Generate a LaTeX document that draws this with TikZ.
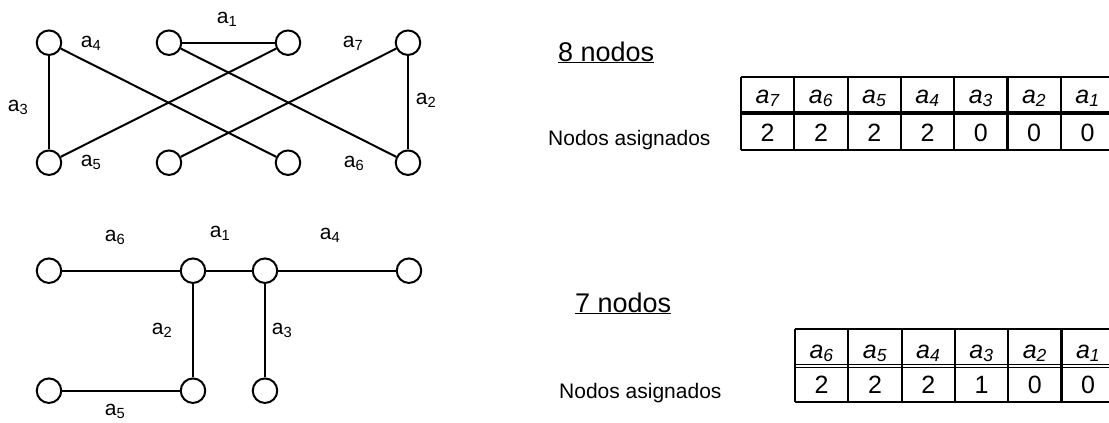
\documentclass[tikz,border=0pt]{standalone}
\usepackage{fontspec}
\setmainfont{Liberation Sans}
\begin{document}
\begin{tikzpicture}[x=1pt,y=-1pt,
  vert/.style={draw,circle,minimum size=24.5pt,inner sep=0pt,line width=2pt},
  edge/.style={line width=2pt},
  elabel/.style={font=\fontsize{21}{24}\selectfont,inner sep=0pt},
  title/.style={font=\fontsize{27}{30}\selectfont,inner sep=0pt,anchor=base west},
  rowname/.style={font=\fontsize{21}{24}\selectfont,inner sep=0pt,anchor=base west},
  cell/.style={font=\fontsize{25}{28}\selectfont,inner sep=0pt,anchor=base},
  head/.style={cell,font=\fontsize{25}{28}\selectfont\itshape},
  grid/.style={line width=2.2pt}
]
\useasboundingbox (0,0) rectangle (1109,423);
\clip (0,0) rectangle (1109,423);

% ---------- graph with 8 nodes ----------
\node[vert] (t1) at (49,42.7) {};
\node[vert] (t2) at (169,42.7) {};
\node[vert] (t3) at (288,42.7) {};
\node[vert] (t4) at (408,42.7) {};
\node[vert] (b1) at (49,162.7) {};
\node[vert] (b2) at (169,162.7) {};
\node[vert] (b3) at (288,162.7) {};
\node[vert] (b4) at (408,162.7) {};

\draw[edge] (t2) -- (t3);
\draw[edge] (t1) -- (b1);
\draw[edge] (t4) -- (b4);
\draw[edge] (t1) -- (b3);
\draw[edge] (t2) -- (b4);
\draw[edge] (t3) -- (b1);
\draw[edge] (t4) -- (b2);

\node[elabel] (la1) at (227,19) {a\textsubscript{1}};
\node[elabel] (la4) at (91,43) {a\textsubscript{4}};
\node[elabel] (la7) at (353,43) {a\textsubscript{7}};
\node[elabel] (la3) at (18,107) {a\textsubscript{3}};
\node[elabel] (la2) at (426,100) {a\textsubscript{2}};
\node[elabel] (la5) at (91,162) {a\textsubscript{5}};
\node[elabel] (la6) at (354,163) {a\textsubscript{6}};

% ---------- graph with 7 nodes ----------
\node[vert] (l)  at (49,270.7) {};
\node[vert] (m1) at (193,270.7) {};
\node[vert] (m2) at (265,270.7) {};
\node[vert] (r)  at (409,270.7) {};
\node[vert] (d1) at (49,390.7) {};
\node[vert] (d2) at (193,390.7) {};
\node[vert] (d3) at (265,390.7) {};

\draw[edge] (l) -- (m1);
\draw[edge] (m1) -- (m2);
\draw[edge] (m2) -- (r);
\draw[edge] (m1) -- (d2);
\draw[edge] (m2) -- (d3);
\draw[edge] (d1) -- (d2);

\node[elabel] (lb6) at (115,237) {a\textsubscript{6}};
\node[elabel] (lb1) at (220,233) {a\textsubscript{1}};
\node[elabel] (lb4) at (330,235) {a\textsubscript{4}};
\node[elabel] (lb2) at (162,330) {a\textsubscript{2}};
\node[elabel] (lb3) at (282,330) {a\textsubscript{3}};
\node[elabel] (lb5) at (115,411) {a\textsubscript{5}};

% ---------- table for 8 nodes ----------
\node[title] (tt8) at (558,61) {\underline{8 nodos}};
\node[rowname] (rn8) at (548,145) {Nodos asignados};
\def\cw{53.3}
\draw[grid] (741,76.7) -- (1120,76.7);
\draw[grid] (741,150) -- (1120,150);
\draw[line width=3.4pt] (741,113) -- (1120,113);
\foreach \i in {0,...,7}{
  \draw[grid] (741+\i*\cw,76.7) -- (741+\i*\cw,150);
}
\foreach \h/\v [count=\i from 0] in {7/2,6/2,5/2,4/2,3/0,2/0,1/0}{
  \node[head] (h8-\i) at (741+\i*\cw+0.5*\cw,103) {a\textsubscript{\h}};
  \node[cell] (v8-\i) at (741+\i*\cw+0.5*\cw,141.7) {\v};
}

% ---------- table for 7 nodes ----------
\node[title] (tt7) at (575,312) {\underline{7 nodos}};
\node[rowname] (rn7) at (559,398) {Nodos asignados};
\draw[grid] (795,329) -- (1120,329);
\draw[grid] (795,401.7) -- (1120,401.7);
\draw[line width=1.4pt] (795,364.3) -- (1120,364.3);
\draw[line width=1.4pt] (795,367.6) -- (1120,367.6);
\foreach \i in {0,...,6}{
  \draw[grid] (795+\i*\cw,329) -- (795+\i*\cw,401.7);
}
\foreach \h/\v [count=\i from 0] in {6/2,5/2,4/2,3/1,2/0,1/0}{
  \node[head] (h7-\i) at (795+\i*\cw+0.5*\cw,358) {a\textsubscript{\h}};
  \node[cell] (v7-\i) at (795+\i*\cw+0.5*\cw,393) {\v};
}
\end{tikzpicture}
\end{document}
